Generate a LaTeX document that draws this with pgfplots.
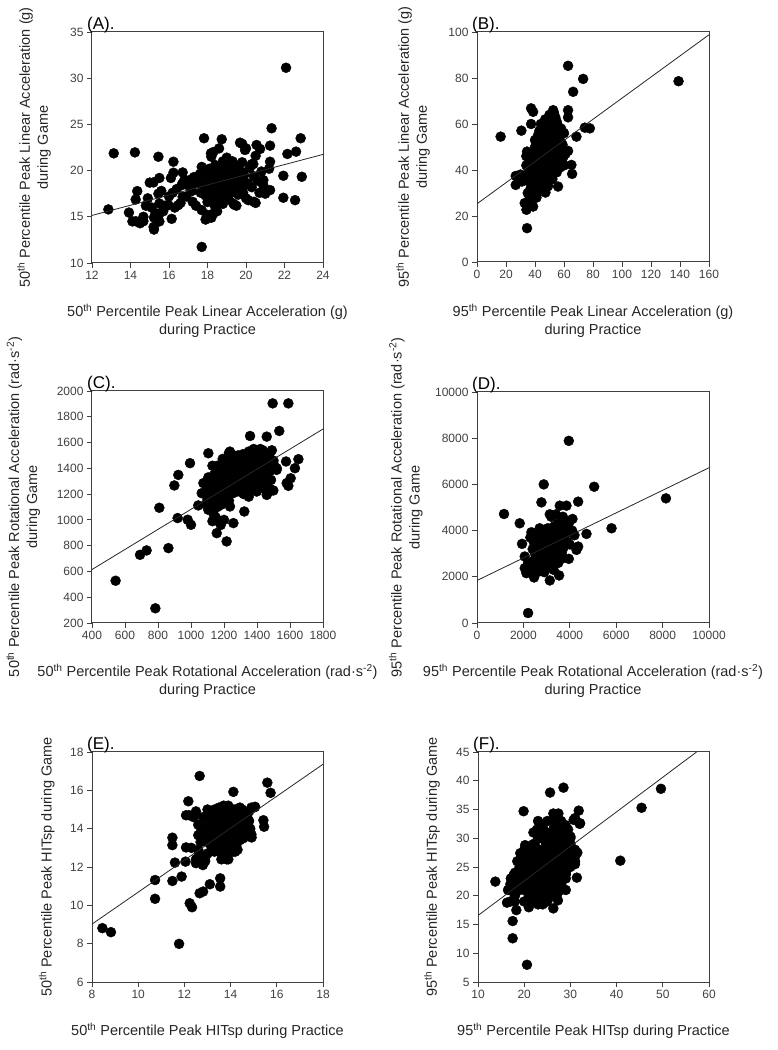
\documentclass[border=0pt]{standalone}
\usepackage{fontspec}
\setmainfont{Liberation Sans}
\usepackage{pgfplots}
\pgfplotsset{compat=1.18}

\pgfplotstableread{
x y
12.85 15.8
13.13 21.87
14.23 21.97
13.92 15.46
14.35 17.78
14.27 16.87
14.27 14.52
14.67 14.52
14.67 15.0
15.19 18.72
15.45 21.5
15.5 19.2
15.22 14.92
15.22 13.62
15.45 17.5
15.5 16.44
15.5 15.35
16.14 14.78
16.23 20.96
16.23 19.77
16.19 17.6
15.97 16.26
16.48 16.26
16.71 19.8
16.66 18.43
16.71 17.16
17.18 18.36
17.23 16.62
17.7 19.7
17.82 23.5
17.7 15.72
17.7 11.74
17.96 14.81
18.18 21.87
18.3 15.35
18.74 23.39
19.17 20.78
19.34 16.44
19.69 23.02
19.95 22.23
20.12 16.8
20.38 20.7
20.42 16.62
20.55 22.77
20.73 22.34
20.9 18.97
20.9 17.78
21.25 22.7
21.25 20.96
21.33 24.58
21.25 17.89
21.94 19.44
21.94 17.06
22.08 31.13
22.15 21.8
22.6 22.05
22.55 16.8
22.84 23.5
22.9 19.33
17.6 19.6
17.8 18.9
17.9 18.2
17.9 17.3
18.0 16.6
18.0 19.9
18.1 20.2
18.2 21.5
18.2 18.5
18.3 17.7
18.3 16.9
18.4 19.3
18.4 20.6
18.5 18.0
18.5 15.6
18.6 19.7
18.6 17.2
18.7 20.3
18.7 18.6
18.8 16.4
18.9 19.0
18.9 17.8
19.0 20.8
19.0 18.3
19.1 19.6
19.1 16.9
19.2 20.1
19.2 17.6
19.3 18.9
19.3 21.0
19.4 19.8
19.4 16.3
19.5 18.4
19.6 20.5
19.6 17.4
19.7 19.2
19.8 20.9
19.8 18.0
19.9 19.5
20.0 17.0
20.1 18.6
20.2 20.3
20.3 18.2
20.4 19.4
20.5 16.5
20.6 18.9
20.7 17.6
20.8 19.9
20.9 18.4
17.2 17.8
17.4 16.2
17.5 18.6
17.0 18.4
16.9 17.2
16.6 16.5
16.4 18.0
16.3 16.0
16.8 19.0
17.3 19.3
17.7 20.4
18.0 15.2
18.2 14.9
17.9 14.7
19.5 16.2
21.0 17.5
21.2 20.2
16.0 17.2
15.8 16.2
15.6 17.8
14.9 17.0
14.8 16.2
15.1 16.0
15.0 18.7
15.3 15.4
15.5 14.5
14.5 14.3
14.1 14.5
15.2 13.9
15.7 15.6
16.1 19.2
16.7 18.6
17.1 19.0
18.8 21.0
19.0 21.4
18.3 22.0
18.6 22.4
20.0 22.4
19.8 22.9
20.3 20.7
20.5 21.6
17.85 18.5
18.05 17.8
18.25 19.0
18.45 17.4
18.65 18.3
18.85 19.4
19.05 17.3
19.25 19.3
19.45 18.0
19.65 18.8
19.85 17.6
18.15 19.6
18.55 20.0
18.95 20.4
19.35 20.3
19.75 19.9
18.35 16.3
18.75 16.9
19.15 18.6
17.65 17.6
}\dataA

\pgfplotstableread{
x y
16.3 54.5
30.6 57.1
26.7 37.4
26.7 33.5
37.3 66.8
38.7 65.3
37.3 60.0
34.5 48.0
32.9 25.6
34.1 22.7
34.5 14.7
38.7 24.1
36.4 27.7
47.2 30.2
55.9 32.8
62.8 85.3
73.2 79.6
66.3 74.0
62.8 66.0
62.8 62.9
62.8 48.3
65.1 42.2
65.6 38.3
68.6 54.5
74.4 58.4
77.8 58.1
139.0 78.6
52.5 66.0
57.1 55.9
59.4 45.8
36 30
36 35
36 40
37 44
38 37
38 33
39 47
39 42
40 36
40 50
41 40
41 45
42 48
42 33
43 52
43 38
44 43
44 46
45 50
45 35
46 55
46 41
47 48
47 44
48 52
48 38
49 57
49 46
50 60
50 50
51 54
51 42
52 62
52 48
53 58
53 40
54 52
54 56
55 61
55 46
56 50
56 43
57 55
58 48
58 52
59 45
60 56
61 47
50 64
51 59
53 65
54 63
45 59
44 55
42 51
40 53
38 45
37 40
35 38
34 42
33 36
34 46
31 35
30 38
47 31
49 33
52 36
55 39
57 41
60 42
35 30
38 29
41 28
44 31
46 36
48 41
50 44
52 45
43 57
47 62
37 36
39 38
41 43
43 47
45 44
47 52
49 50
51 48
53 53
55 54
57 50
39 34
41 37
43 41
45 39
47 41
49 43
51 46
53 44
55 48
57 46
44 49
46 47
48 46
50 55
52 57
54 59
56 59
48 59
50 57
46 52
42 45
40 40
38 41
36 38
44 38
46 33
48 35
50 38
52 40
54 42
58 58
59 51
43 35
41 32
39 31
37 32
42 55
44 60
53 61
56 54
49 62
51 64
}\dataB

\pgfplotstableread{
x y
543 528
784 314
691 729
731 763
863 781
808 1094
899 1267
923 1349
919 1014
994 1440
980 1001
1000 962
1044 1112
1105 1517
1156 897
1216 833
1257 975
1236 1466
1192 1473
1236 1530
1323 1065
1358 1651
1495 1904
1590 1904
1535 1690
1459 1646
1459 1194
1499 1228
1519 1388
1576 1453
1580 1285
1590 1264
1604 1323
1630 1401
1651 1471
1075 1285
1065 1207
1135 1052
1105 1078
1182 1117
1236 1104
1176 1194
1378 1233
1398 1220
1100 1250
1110 1200
1120 1300
1130 1150
1140 1350
1150 1250
1160 1100
1170 1400
1180 1300
1190 1200
1200 1450
1210 1350
1220 1250
1230 1150
1240 1400
1250 1300
1260 1500
1270 1350
1280 1250
1290 1450
1300 1300
1310 1400
1320 1200
1330 1500
1340 1350
1350 1450
1360 1250
1370 1400
1380 1500
1390 1300
1400 1450
1410 1350
1420 1550
1430 1250
1440 1400
1450 1500
1460 1300
1470 1450
1480 1380
1490 1540
1380 1550
1350 1530
1300 1480
1250 1440
1230 1520
1200 1300
1170 1250
1140 1180
1120 1080
1090 1120
1160 1420
1280 1430
1320 1330
1400 1380
1430 1480
1460 1200
1480 1240
1340 1220
1350 1180
1260 1210
1230 1300
1290 1380
1310 1270
1370 1330
1410 1420
1440 1330
1500 1460
1520 1400
1150 1020
1180 960
1200 1000
1130 990
1105 1330
1125 1230
1145 1290
1165 1180
1185 1360
1205 1230
1225 1420
1245 1350
1265 1280
1285 1500
1305 1360
1325 1440
1345 1290
1365 1480
1385 1360
1405 1260
1425 1420
1445 1450
1465 1380
1485 1310
1505 1420
1155 1320
1175 1140
1195 1410
1215 1180
1255 1390
1275 1470
1295 1220
1315 1510
1335 1410
1355 1360
1375 1270
1395 1520
1415 1300
1435 1540
1455 1410
1475 1510
1100 1160
1130 1420
1210 1470
1250 1250
1330 1250
1360 1420
1280 1320
1440 1280
}\dataC

\pgfplotstableread{
x y
1165 4719
1842 4317
1942 3424
2058 2878
2201 432
2058 2374
2129 2158
2460 1971
2777 5223
2878 6000
3957 7885
3137 1842
3540 2058
3137 4705
3568 5079
3856 5079
4360 5252
5050 5899
5799 4101
8144 5396
4115 4504
4288 3165
4360 3309
4719 3856
3957 2777
2345 3928
2500 3000
2500 3500
2600 2700
2600 3300
2700 3800
2700 2500
2800 3100
2800 3600
2900 2800
2900 4000
3000 3300
3000 2400
3100 3700
3100 3000
3200 2700
3200 4100
3300 3400
3300 2300
3400 3800
3400 3100
3500 2600
3500 4300
3600 3500
3600 2900
3700 4000
3700 3200
3800 3600
2650 3450
2850 3250
3050 3550
3250 3050
3450 3650
2950 3750
3150 3350
2750 2950
3350 2850
2400 3200
2450 2700
2350 2500
3900 3500
3950 4300
4100 4000
4200 3800
4000 3400
3800 4400
3700 4600
3400 4700
3200 4600
2300 3700
2200 2600
2300 2200
2600 2200
2900 2200
3300 2600
2550 3250
2650 2900
2750 3350
2850 2600
2950 3450
3050 2800
3150 3900
3250 3700
3350 3300
3450 2900
3550 3800
3650 3000
3750 3400
2550 2550
2650 3750
2850 3900
3050 4100
3250 2450
3450 4000
3550 3200
2450 3500
2750 2300
3150 2500
3350 4200
3650 3700
2950 3050
3050 3250
3200 3500
3400 3500
2800 3450
2700 4100
3000 3900
3600 4200
3850 3900
3700 2800
}\dataD

\pgfplotstableread{
x y
8.45 8.81
8.82 8.6
11.77 7.99
10.73 11.32
10.73 10.34
11.48 11.27
11.88 11.5
11.59 12.23
11.48 13.53
11.48 13.14
12.07 13.02
12.07 14.7
12.17 15.43
12.66 16.75
12.23 10.11
12.33 9.9
12.66 10.63
12.81 10.72
13.1 11.1
13.55 11.41
13.55 10.98
14.12 15.92
13.83 12.4
15.59 16.4
15.73 15.87
15.42 14.44
15.45 14.1
14.91 13.54
15.06 15.14
12.6 13.66
12.63 12.71
12.81 12.28
12.05 12.28
12.8 14.6
12.9 13.9
13.0 14.3
13.0 13.3
13.1 14.8
13.2 13.7
13.2 12.9
13.3 14.2
13.4 13.4
13.4 14.9
13.5 12.8
13.5 13.9
13.6 14.5
13.6 13.1
13.7 14.0
13.7 15.2
13.8 13.5
13.8 12.6
13.9 14.3
13.9 13.0
14.0 14.8
14.0 13.8
14.1 13.2
14.1 14.4
14.2 15.0
14.2 13.6
14.3 14.1
14.3 12.9
14.4 14.7
14.4 13.4
14.5 13.9
14.5 15.0
14.6 14.3
14.6 13.6
14.7 14.8
14.7 13.9
14.8 14.4
14.9 13.7
14.9 15.1
15.0 15.1
13.3 15.0
13.0 12.7
12.9 12.5
12.7 13.3
12.6 14.2
12.5 14.9
12.6 12.9
12.8 12.1
12.5 12.4
12.3 13.0
13.6 12.4
13.9 12.4
14.1 12.8
13.7 15.0
14.4 15.1
14.6 14.9
13.2 14.5
13.5 14.6
14.0 13.5
13.8 14.7
13.4 13.0
14.2 14.1
14.3 13.3
13.1 13.9
12.7 13.8
12.4 14.6
12.2 14.7
12.5 12.2
12.9 12.3
13.9 15.2
12.85 14.0
12.95 13.5
13.05 14.6
13.15 13.1
13.25 14.0
13.35 13.7
13.45 14.4
13.55 13.3
13.65 13.8
13.75 14.4
13.85 13.1
13.95 14.0
14.05 14.6
14.15 13.9
14.25 14.6
14.35 13.7
14.45 14.3
14.55 13.5
14.65 14.1
14.75 14.5
14.85 14.0
13.3 12.8
13.6 12.8
14.0 12.9
14.2 12.8
13.1 13.5
13.7 13.3
13.9 13.7
14.4 13.9
13.5 15.1
14.1 15.0
14.8 14.9
13.0 15.0
12.8 13.5
}\dataE

\pgfplotstableread{
x y
13.75 22.46
20.6 8.0
17.5 12.6
17.5 15.6
16.27 18.8
19.87 34.7
25.6 37.95
28.5 38.8
49.6 38.6
45.4 35.3
40.8 26.1
31.8 34.8
31.4 23.15
29.0 23.7
28.0 21.0
27.3 19.2
26.3 17.8
22.75 31.5
20.2 28.8
19.15 27.4
17.1 23.0
17.7 23.6
17.0 21.0
18.4 21.0
18.3 17.5
31.0 26.8
30.0 30.3
28.9 32.3
30.7 33.2
32.1 32.6
26.3 34.3
27.4 34.3
20 21
20 24
21 22
21 26
21 20
22 23
22 27
22 19
23 24
23 28
23 21
24 25
24 30
24 22
24 19
25 26
25 29
25 23
25 20
26 27
26 31
26 24
26 21
27 28
27 25
27 32
27 22
28 29
28 26
28 31
29 27
29 30
29 24
30 28
30 25
22 25
23 26
24 27
25 25
26 28
23 30
22 31
24 32
25 33
26 33
27 34
28 33
29 32
21 28
20 27
19 25
19 23
18 20
18 24
19 21
20 19
21 18
22 20
23 18.5
24 18.5
25 19
26 20
27 20
28 22
29 23
30 27
31 28
31 26
30 30
29 21
24 28
25 31
26 29
27 29
22 29
23 33
18 19
17 19
16.5 21
17 22
18.5 26
20 28
19.5 22.5
31.5 27.5
31 25.5
32 32.5
31 33.5
29.5 31.5
20.5 22.5
21.5 23.5
21.5 25
22.5 21.5
22.5 24.5
22.5 28.5
23.5 22.5
23.5 25.5
23.5 27.5
23.5 31.5
24.5 20.5
24.5 23.5
24.5 26.5
24.5 29.5
25.5 21.5
25.5 24.5
25.5 27.5
25.5 30.5
26.5 22.5
26.5 25.5
26.5 29.5
26.5 32
27.5 23.5
27.5 26.5
27.5 30.5
28.5 24.5
28.5 27.5
28.5 30
29.5 25.5
29.5 28.5
20.5 25.5
21.5 21
22 22
23 19.5
24 21
25 22
26 23
27 24
28 25
29 26
30 29
21 24
20 26
19 24
18.5 22.5
}\dataF

\pgfplotsset{
  panel/.style={
    scale only axis, anchor=south west,
    axis line style={draw=black!75, line width=1pt},
    tick align=outside, tick pos=left,
    major tick length=5pt,
    every tick/.style={draw=black!75, line width=0.9pt},
    ticklabel style={font=\fontsize{12}{14}\selectfont, text=black!75},
    /pgf/number format/assume math mode=true,
    /pgf/number format/1000 sep={},
    scaled ticks=false,
    label style={font=\fontsize{14.5}{18}\selectfont, text=black!85, align=center},
    xlabel style={anchor=center},
    ylabel style={anchor=center},
    clip mode=individual,
  },
  dot/.style={only marks, mark=*, mark size=5pt, mark options={fill=black, draw=black}},
  fitline/.style={no marks, black!85, line width=0.8pt},
}
\newcommand{\ptitle}[1]{\node[anchor=base west, inner sep=0pt, font=\fontsize{17}{19}\selectfont, xshift=-5pt, yshift=2pt] at (rel axis cs:0,1) {#1};}

\begin{document}
\begin{tikzpicture}
\useasboundingbox (0,0) rectangle (778pt,1050pt);

% (A)
\begin{axis}[panel, at={(92pt,787pt)}, width=231pt, height=231pt,
  xmin=12, xmax=24, ymin=10, ymax=35,
  xtick={12,14,...,24}, ytick={10,15,...,35},
  xlabel={50\textsuperscript{th} Percentile Peak Linear Acceleration (g)\\during Practice},
  ylabel={50\textsuperscript{th} Percentile Peak Linear Acceleration (g)\\during Game},
  xlabel style={at={(axis description cs:0.5,-0.251)}},
  ylabel style={at={(axis description cs:-0.251,0.5)}},
]
\addplot[dot] table[x=x,y=y] {\dataA};
\addplot[fitline] coordinates {(12,15.15) (24,21.75)};
\ptitle{(A).}
\end{axis}

% (B)
\begin{axis}[panel, at={(477pt,788pt)}, width=232pt, height=230pt,
  xmin=0, xmax=160, ymin=0, ymax=100,
  xtick={0,20,...,160}, ytick={0,20,...,100},
  xlabel={95\textsuperscript{th} Percentile Peak Linear Acceleration (g)\\during Practice},
  ylabel={95\textsuperscript{th} Percentile Peak Linear Acceleration (g)\\during Game},
  xlabel style={at={(axis description cs:0.5,-0.256)}},
  ylabel style={at={(axis description cs:-0.276,0.5)}},
]
\addplot[dot] table[x=x,y=y] {\dataB};
\addplot[fitline] coordinates {(0,25.3) (160,98.8)};
\ptitle{(B).}
\end{axis}

% (C)
\begin{axis}[panel, at={(92pt,427pt)}, width=231pt, height=232pt,
  xmin=400, xmax=1800, ymin=200, ymax=2000,
  xtick={400,600,...,1800}, ytick={200,400,...,2000},
  xlabel={50\textsuperscript{th} Percentile Peak Rotational Acceleration (rad·s\textsuperscript{-2})\\during Practice},
  ylabel={50\textsuperscript{th} Percentile Peak Rotational Acceleration (rad·s\textsuperscript{-2})\\during Game},
  xlabel style={at={(axis description cs:0.5,-0.25)}},
  ylabel style={at={(axis description cs:-0.297,0.5)}},
]
\addplot[dot] table[x=x,y=y] {\dataC};
\addplot[fitline] coordinates {(400,615) (1800,1705)};
\ptitle{(C).}
\end{axis}

% (D)
\begin{axis}[panel, at={(477pt,427pt)}, width=232pt, height=231pt,
  xmin=0, xmax=10000, ymin=0, ymax=10000,
  xtick={0,2000,...,10000}, ytick={0,2000,...,10000},
  xlabel={95\textsuperscript{th} Percentile Peak Rotational Acceleration (rad·s\textsuperscript{-2})\\during Practice},
  ylabel={95\textsuperscript{th} Percentile Peak Rotational Acceleration (rad·s\textsuperscript{-2})\\during Game},
  xlabel style={at={(axis description cs:0.5,-0.25)}},
  ylabel style={at={(axis description cs:-0.307,0.5)}},
]
\addplot[dot] table[x=x,y=y] {\dataD};
\addplot[fitline] coordinates {(0,1840) (10000,6720)};
\ptitle{(D).}
\end{axis}

% (E)
\begin{axis}[panel, at={(92pt,68pt)}, width=231pt, height=230pt,
  xmin=8, xmax=18, ymin=6, ymax=18,
  xtick={8,10,...,18}, ytick={6,8,...,18},
  xlabel={50\textsuperscript{th} Percentile Peak HITsp during Practice},
  ylabel={50\textsuperscript{th} Percentile Peak HITsp during Game},
  xlabel style={at={(axis description cs:0.5,-0.213)}},
  ylabel style={at={(axis description cs:-0.196,0.5)}},
]
\addplot[dot] table[x=x,y=y] {\dataE};
\addplot[fitline] coordinates {(8,9.02) (18,17.36)};
\ptitle{(E).}
\end{axis}

% (F)
\begin{axis}[panel, at={(478pt,68pt)}, width=231pt, height=230pt,
  xmin=10, xmax=60, ymin=5, ymax=45,
  xtick={10,20,...,60}, ytick={5,10,...,45},
  xlabel={95\textsuperscript{th} Percentile Peak HITsp during Practice},
  ylabel={95\textsuperscript{th} Percentile Peak HITsp during Game},
  xlabel style={at={(axis description cs:0.5,-0.213)}},
  ylabel style={at={(axis description cs:-0.199,0.5)}},
]
\addplot[dot] table[x=x,y=y] {\dataF};
\addplot[fitline] coordinates {(10,16.56) (57.3,45)};
\ptitle{(F).}
\end{axis}

\end{tikzpicture}
\end{document}
